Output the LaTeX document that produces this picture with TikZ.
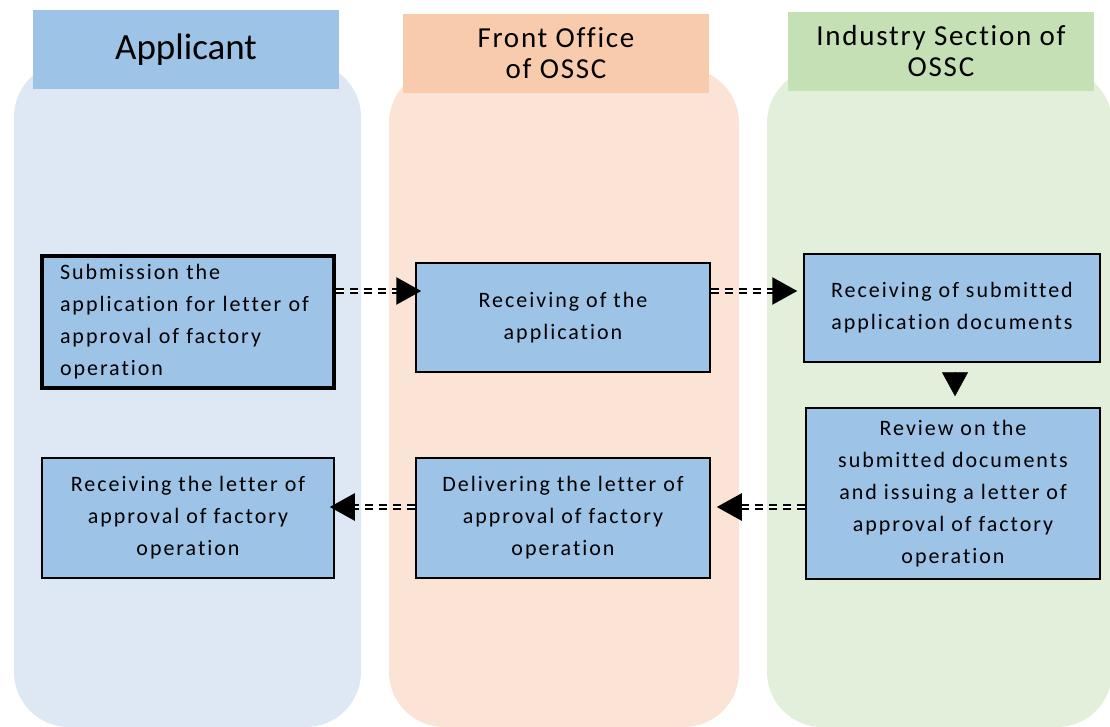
\documentclass[tikz,border=0pt]{standalone}
\usepackage{fontspec}
\setmainfont{Carlito}
\newfontfamily\boxfont[LetterSpace=9, Ligatures=NoCommon]{Carlito}
\newfontfamily\headfont[LetterSpace=6, Ligatures=NoCommon]{Carlito}
\usetikzlibrary{arrows.meta}
\definecolor{laneblue}{HTML}{DEE8F4}
\definecolor{lanepeach}{HTML}{FBE4D6}
\definecolor{lanegreen}{HTML}{E2EFDA}
\definecolor{headblue}{HTML}{9DC3E6}
\definecolor{headpeach}{HTML}{F8CBAD}
\definecolor{headgreen}{HTML}{C5E0B4}

\begin{document}
\begin{tikzpicture}[x=1pt, y=-1pt,
    lane/.style = {rounded corners=55pt},
    head/.style = {minimum width=306pt, minimum height=79pt, inner sep=0pt, align=center, font=\headfont\fontsize{29}{31}\selectfont},
    task/.style = {draw=black, line width=1.5pt, fill=headblue, inner sep=0pt, align=center, font=\boxfont\fontsize{22}{32}\selectfont},
    flow/.style = {line width=2.6pt, double distance=1.6pt, double=white, dash pattern=on 8pt off 6pt, -{Triangle[length=25pt, width=27pt]}}]
        \useasboundingbox (0,0) rectangle (1110,727);
        % lanes
        \fill[laneblue, lane] (14,62) rectangle (361,727);
        \fill[lanepeach, lane] (389,68) rectangle (739,727);
        \fill[lanegreen, lane] (767,68) rectangle (1112,727);
        % headers
        \node[head, fill=headblue, font=\fontsize{37}{40}\selectfont] (hApp) at (186,49.5) {Applicant};
        \node[head, fill=headpeach] (hFront) at (556,53.5) {Front Office\\of OSSC};
        \node[head, fill=headgreen] (hInd) at (941,51.5) {Industry Section of\\OSSC};
        % tasks
        \node[task, line width=4pt, minimum width=292pt, minimum height=132pt, text width=256pt, align=left] (sub) at (188,322) {Submission the\\application for letter of\\approval of factory\\operation};
        \node[task, minimum width=294pt, minimum height=109pt] (rec) at (563,317.5) {Receiving of the\\application};
        \node[task, minimum width=296pt, minimum height=108pt] (recInd) at (952,308) {Receiving of submitted\\application documents};
        \node[task, minimum width=294pt, minimum height=171pt] (rev) at (953,493.5) {Review on the\\submitted documents\\and issuing a letter of\\approval of factory\\operation};
        \node[task, minimum width=294pt, minimum height=120pt] (del) at (563,518) {Delivering the letter of\\approval of factory\\operation};
        \node[task, minimum width=292pt, minimum height=120pt] (recLet) at (188,518) {Receiving the letter of\\approval of factory\\operation};
        % rows of the arrows
        \coordinate (rowA) at (0,291);
        \coordinate (rowB) at (0,507);
        \draw[flow, shorten >=-6pt] (sub.east |- rowA) -- (rec.west |- rowA);
        \draw[flow, shorten >=6pt] (rec.east |- rowA) -- (recInd.west |- rowA);
        \draw[flow, shorten >=6pt] (rev.west |- rowB) -- (del.east |- rowB);
        \draw[flow, shorten >=-5pt] (del.west |- rowB) -- (recLet.east |- rowB);
        \draw[line width=0.5pt, -{Triangle[length=24pt, width=26pt]}, shorten <=10pt, shorten >=11pt] ([xshift=3pt]recInd.south) -- ([xshift=3pt]recInd.south |- rev.north);
      \end{tikzpicture}
\end{document}
